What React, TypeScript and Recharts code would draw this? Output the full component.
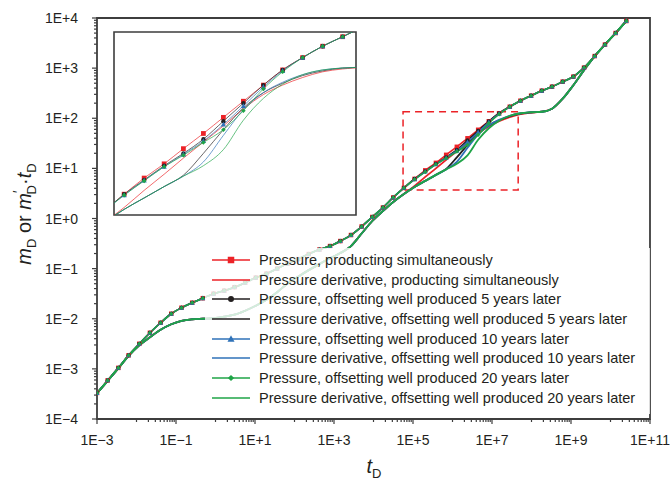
import React from 'react'
import { LineChart, Line, XAxis, YAxis, Legend, ReferenceArea } from 'recharts'

const FONT = '"Liberation Sans", Arial, sans-serif'
const RED = '#ec2227'
const BLACK = '#231f20'
const BLUE = '#2f72b8'
const GREEN = '#1fa447'
const FRAME = '#3d3d3d'

// log10 of t_D at every computed step (one marker per step)
const tLog = [
  -3.0, -2.73, -2.46, -2.2, -1.93, -1.66, -1.39, -1.12, -0.86, -0.59, -0.32, -0.05, 0.22, 0.48, 0.75, 1.02, 1.29,
  1.56, 1.82, 2.09, 2.36, 2.63, 2.9, 3.16, 3.43, 3.7, 3.97, 4.24, 4.5, 4.77, 5.04, 5.31, 5.58, 5.84, 6.11, 6.38,
  6.65, 6.92, 7.18, 7.45, 7.72, 7.99, 8.26, 8.52, 8.79, 9.06, 9.33, 9.6, 9.86, 10.13, 10.4,
]

// log10 of m_D (pressure)
const pSimLog = [
  -3.48, -3.23, -2.98, -2.73, -2.5, -2.28, -2.08, -1.9, -1.78, -1.68, -1.59, -1.5, -1.44, -1.37, -1.28, -1.18, -1.1,
  -1.0, -0.9, -0.81, -0.71, -0.62, -0.55, -0.45, -0.33, -0.16, 0.03, 0.22, 0.42, 0.61, 0.79, 0.96, 1.11, 1.27, 1.43,
  1.6, 1.77, 1.94, 2.1, 2.23, 2.35, 2.45, 2.55, 2.63, 2.73, 2.83, 3.01, 3.24, 3.47, 3.7, 3.94,
]
const p5Log = [
  -3.48, -3.23, -2.98, -2.73, -2.5, -2.28, -2.08, -1.9, -1.78, -1.68, -1.59, -1.5, -1.44, -1.37, -1.28, -1.18, -1.1,
  -1.0, -0.9, -0.81, -0.71, -0.62, -0.55, -0.45, -0.33, -0.16, 0.03, 0.22, 0.42, 0.61, 0.79, 0.94, 1.09, 1.22, 1.37,
  1.56, 1.75, 1.94, 2.1, 2.23, 2.35, 2.45, 2.55, 2.63, 2.73, 2.83, 3.01, 3.24, 3.47, 3.7, 3.94,
]
const p10Log = [
  -3.48, -3.23, -2.98, -2.73, -2.5, -2.28, -2.08, -1.9, -1.78, -1.68, -1.59, -1.5, -1.44, -1.37, -1.28, -1.18, -1.1,
  -1.0, -0.9, -0.81, -0.71, -0.62, -0.55, -0.45, -0.33, -0.16, 0.03, 0.22, 0.42, 0.61, 0.78, 0.935, 1.08, 1.21, 1.35,
  1.525, 1.72, 1.92, 2.09, 2.23, 2.35, 2.45, 2.55, 2.63, 2.73, 2.83, 3.01, 3.24, 3.47, 3.7, 3.94,
]
const p20Log = [
  -3.48, -3.23, -2.98, -2.73, -2.5, -2.28, -2.08, -1.9, -1.78, -1.68, -1.59, -1.5, -1.44, -1.37, -1.28, -1.18, -1.1,
  -1.0, -0.9, -0.81, -0.71, -0.62, -0.55, -0.45, -0.33, -0.16, 0.03, 0.22, 0.42, 0.61, 0.78, 0.93, 1.08, 1.2, 1.335,
  1.47, 1.67, 1.9, 2.08, 2.23, 2.35, 2.45, 2.55, 2.63, 2.73, 2.83, 3.01, 3.24, 3.47, 3.7, 3.94,
]

// log10 of m'_D·t_D (pressure derivative)
const dSimLog = [
  -3.49, -3.24, -2.99, -2.74, -2.53, -2.37, -2.22, -2.11, -2.04, -2.01, -2.0, -1.99, -1.96, -1.92, -1.84, -1.74, -1.62,
  -1.47, -1.3, -1.16, -1.03, -0.91, -0.79, -0.69, -0.55, -0.3, -0.05, 0.15, 0.33, 0.49, 0.65, 0.83, 1.0, 1.17, 1.34,
  1.51, 1.69, 1.84, 1.94, 2.02, 2.08, 2.11, 2.13, 2.19, 2.39, 2.66, 2.96, 3.24, 3.47, 3.7, 3.94,
]
const d5Log = [
  -3.49, -3.24, -2.99, -2.74, -2.53, -2.37, -2.22, -2.11, -2.04, -2.01, -2.0, -1.99, -1.96, -1.92, -1.84, -1.74, -1.62,
  -1.47, -1.3, -1.16, -1.03, -0.91, -0.79, -0.69, -0.55, -0.3, -0.05, 0.15, 0.33, 0.49, 0.63, 0.75, 0.87, 0.99, 1.22,
  1.47, 1.7, 1.86, 1.96, 2.04, 2.09, 2.12, 2.13, 2.19, 2.39, 2.66, 2.96, 3.24, 3.47, 3.7, 3.94,
]
const d10Log = [
  -3.49, -3.24, -2.99, -2.74, -2.53, -2.37, -2.22, -2.11, -2.04, -2.01, -2.0, -1.99, -1.96, -1.92, -1.84, -1.74, -1.62,
  -1.47, -1.3, -1.16, -1.03, -0.91, -0.79, -0.69, -0.55, -0.3, -0.05, 0.15, 0.33, 0.49, 0.63, 0.75, 0.87, 0.98, 1.13,
  1.41, 1.68, 1.86, 1.97, 2.05, 2.1, 2.12, 2.13, 2.19, 2.39, 2.66, 2.96, 3.24, 3.47, 3.7, 3.94,
]
const d20Log = [
  -3.49, -3.24, -2.99, -2.74, -2.53, -2.37, -2.22, -2.11, -2.04, -2.01, -2.0, -1.99, -1.96, -1.92, -1.84, -1.74, -1.62,
  -1.47, -1.3, -1.16, -1.03, -0.91, -0.79, -0.69, -0.55, -0.3, -0.05, 0.15, 0.33, 0.49, 0.63, 0.75, 0.87, 0.98, 1.09,
  1.26, 1.57, 1.8, 1.95, 2.05, 2.1, 2.12, 2.13, 2.19, 2.39, 2.66, 2.96, 3.24, 3.47, 3.7, 3.94,
]

const xTicks = [
  1e-3, 1e-2, 2e-2, 3e-2, 4e-2, 5e-2, 6e-2, 7e-2, 8e-2, 9e-2, 1e-1, 1, 2, 3, 4, 5, 6, 7, 8, 9, 1e1, 1e2, 2e2, 3e2, 4e2,
  5e2, 6e2, 7e2, 8e2, 9e2, 1e3, 1e4, 2e4, 3e4, 4e4, 5e4, 6e4, 7e4, 8e4, 9e4, 1e5, 1e6, 2e6, 3e6, 4e6, 5e6, 6e6, 7e6,
  8e6, 9e6, 1e7, 1e8, 2e8, 3e8, 4e8, 5e8, 6e8, 7e8, 8e8, 9e8, 1e9, 1e10, 2e10, 3e10, 4e10, 5e10, 6e10, 7e10, 8e10,
  9e10, 1e11,
]
const yTicks = [
  1e-4, 2e-4, 3e-4, 4e-4, 5e-4, 6e-4, 7e-4, 8e-4, 9e-4, 1e-3, 2e-3, 3e-3, 4e-3, 5e-3, 6e-3, 7e-3, 8e-3, 9e-3, 1e-2,
  2e-2, 3e-2, 4e-2, 5e-2, 6e-2, 7e-2, 8e-2, 9e-2, 1e-1, 0.2, 0.3, 0.4, 0.5, 0.6, 0.7, 0.8, 0.9, 1, 2, 3, 4, 5, 6, 7, 8,
  9, 10, 20, 30, 40, 50, 60, 70, 80, 90, 100, 200, 300, 400, 500, 600, 700, 800, 900, 1e3, 2e3, 3e3, 4e3, 5e3, 6e3,
  7e3, 8e3, 9e3, 1e4,
]

// dashed box that the inset magnifies, and the inset's own range
const boxX = [5.6e4, 4.6e7]
const boxY = [3.7, 135]
const insetX = [8.0e4, 1.48e8]
const insetY = [3.72, 316]

type Shape = 'square' | 'circle' | 'triangle' | 'diamond'

const series: { key: string; name: string; color: string; shape?: Shape; values: number[] }[] = [
  { key: 'pSim', name: 'Pressure, producting simultaneously', color: RED, shape: 'square', values: pSimLog },
  { key: 'dSim', name: 'Pressure derivative, producting simultaneously', color: RED, values: dSimLog },
  { key: 'p5', name: 'Pressure, offsetting well produced 5 years later', color: BLACK, shape: 'circle', values: p5Log },
  { key: 'd5', name: 'Pressure derivative, offsetting well produced 5 years later', color: BLACK, values: d5Log },
  { key: 'p10', name: 'Pressure, offsetting well produced 10 years later', color: BLUE, shape: 'triangle', values: p10Log },
  { key: 'd10', name: 'Pressure derivative, offsetting well produced 10 years later', color: BLUE, values: d10Log },
  { key: 'p20', name: 'Pressure, offsetting well produced 20 years later', color: GREEN, shape: 'diamond', values: p20Log },
  { key: 'd20', name: 'Pressure derivative, offsetting well produced 20 years later', color: GREEN, values: d20Log },
]

const rows = tLog.map((e, i) => {
  const row: Record<string, number> = { t: Math.pow(10, e) }
  series.forEach((s) => {
    row[s.key] = Math.pow(10, s.values[i])
  })
  return row
})

const markerSize: Record<Shape, number> = { square: 5, circle: 4.6, triangle: 5.4, diamond: 4.8 }

function Marker({ cx, cy, shape, color, size }: any) {
  if (cx == null || cy == null) return null
  const h = size / 2
  if (shape === 'square') return <rect x={cx - h} y={cy - h} width={size} height={size} fill={color} />
  if (shape === 'circle') return <circle cx={cx} cy={cy} r={h} fill={color} />
  if (shape === 'triangle')
    return <polygon points={`${cx},${cy - h * 1.1} ${cx + h},${cy + h * 0.8} ${cx - h},${cy + h * 0.8}`} fill={color} />
  return <polygon points={`${cx},${cy - h} ${cx + h},${cy} ${cx},${cy + h} ${cx - h},${cy}`} fill={color} />
}

const expLabel = (v: number) => {
  const e = Math.round(Math.log10(v))
  return `1E${e < 0 ? '\u2212' : '+'}${Math.abs(e)}`
}

function XTick({ x, y, payload }: any) {
  const e = Math.log10(payload.value)
  const whole = Math.abs(e - Math.round(e)) < 1e-6
  const major = whole && Math.abs(Math.round(e)) % 2 === 1
  return (
    <g>
      <line x1={x} y1={y} x2={x} y2={y + (major ? 5 : 3)} stroke={FRAME} strokeWidth={1.2} />
      {major && (
        <text x={x} y={y + 26} textAnchor="middle" fontSize={14} fill={BLACK} fontFamily={FONT}>
          {expLabel(payload.value)}
        </text>
      )}
    </g>
  )
}

function YTick({ x, y, payload }: any) {
  const e = Math.log10(payload.value)
  const major = Math.abs(e - Math.round(e)) < 1e-6
  return (
    <g>
      <line x1={x - (major ? 5 : 3)} y1={y} x2={x} y2={y} stroke={FRAME} strokeWidth={1.2} />
      {major && (
        <text x={x - 19} y={y + 5} textAnchor="end" fontSize={14} fill={BLACK} fontFamily={FONT}>
          {expLabel(payload.value)}
        </text>
      )}
    </g>
  )
}

const renderLines = (inset: boolean) =>
  series.map((s) => (
    <Line
      key={s.key}
      dataKey={s.key}
      type="monotone"
      stroke={s.color}
      strokeWidth={inset ? 0.8 : s.shape ? 1.6 : 1.8}
      strokeOpacity={inset ? 0.85 : 1}
      dot={
        s.shape
          ? (p: any) => (
              <Marker
                key={`${s.key}-${p.index}`}
                cx={p.cx}
                cy={p.cy}
                shape={s.shape}
                color={s.color}
                size={markerSize[s.shape as Shape] * (inset ? 0.95 : 0.9)}
              />
            )
          : false
      }
      activeDot={false}
      isAnimationActive={false}
    />
  ))

const renderLegend = () => (
  <div style={{ paddingTop: 2, fontFamily: FONT, fontSize: 14.5, color: BLACK }}>
    {series.map((s) => (
      <div key={s.key} style={{ height: 19.7, display: 'flex', alignItems: 'center' }}>
        <svg width={40} height={12} style={{ marginLeft: 6, marginRight: 8 }}>
          <line x1={1} y1={6} x2={39} y2={6} stroke={s.color} strokeWidth={1.6} />
          {s.shape && <Marker cx={20} cy={6} shape={s.shape} color={s.color} size={markerSize[s.shape] * 1.3} />}
        </svg>
        <span style={{ whiteSpace: 'nowrap' }}>{s.name}</span>
      </div>
    ))}
  </div>
)

export default function App() {
  return (
    <div style={{ position: 'absolute', left: 0, top: 0, width: 670, height: 487, background: '#fff', fontFamily: FONT }}>
      <LineChart width={670} height={487} data={rows} margin={{ top: 18, right: 20, bottom: 38, left: 37 }}>
        <XAxis
          dataKey="t"
          type="number"
          scale="log"
          domain={[1e-3, 1e11]}
          ticks={xTicks}
          interval={0}
          tick={<XTick />}
          tickLine={false}
          axisLine={false}
          tickSize={0}
          tickMargin={0}
          height={30}
          allowDataOverflow
        />
        <YAxis
          type="number"
          scale="log"
          domain={[1e-4, 1e4]}
          ticks={yTicks}
          interval={0}
          tick={<YTick />}
          tickLine={false}
          axisLine={false}
          tickSize={0}
          tickMargin={0}
          width={60}
          allowDataOverflow
        />
        <ReferenceArea x1={1e-3} x2={1e11} y1={1e-4} y2={1e4} fill="none" stroke={FRAME} strokeWidth={1.8} />
        <ReferenceArea
          x1={boxX[0]}
          x2={boxX[1]}
          y1={boxY[0]}
          y2={boxY[1]}
          fill="none"
          stroke={RED}
          strokeWidth={1.5}
          strokeDasharray="7 5"
        />
        {renderLines(false)}
        <Legend
          layout="vertical"
          align="center"
          verticalAlign="middle"
          content={renderLegend}
          wrapperStyle={{ left: 205, top: 248, width: 445, height: 166, background: 'rgba(255,255,255,0.8)' }}
        />
      </LineChart>

      <div style={{ position: 'absolute', left: 112, top: 30 }}>
        <LineChart width={246} height={187} data={rows} margin={{ top: 2, right: 2, bottom: 2, left: 2 }}>
          <XAxis dataKey="t" type="number" scale="log" domain={insetX} hide allowDataOverflow />
          <YAxis type="number" scale="log" domain={insetY} hide allowDataOverflow />
          <ReferenceArea x1={insetX[0]} x2={insetX[1]} y1={insetY[0]} y2={insetY[1]} fill="#fff" fillOpacity={1} stroke={FRAME} strokeWidth={1.6} />
          {renderLines(true)}
        </LineChart>
      </div>

      <svg width={670} height={487} style={{ position: 'absolute', left: 0, top: 0, pointerEvents: 'none' }}>
        <text transform="translate(31,214) rotate(-90)" textAnchor="middle" fontSize={20} fill={BLACK} fontFamily={FONT}>
          <tspan fontStyle="italic">m</tspan>
          <tspan fontSize={13} dy={5}>D</tspan>
          <tspan dy={-5}>{'\u00a0or\u00a0'}</tspan>
          <tspan fontStyle="italic">m</tspan>
          <tspan fontSize={14} dy={-8}>′</tspan>
          <tspan fontSize={13} dx={-4} dy={13}>D</tspan>
          <tspan dy={-5}>·</tspan>
          <tspan fontStyle="italic">t</tspan>
          <tspan fontSize={13} dy={5}>D</tspan>
        </text>
        <text x={374} y={473} textAnchor="middle" fontSize={20} fill={BLACK} fontFamily={FONT}>
          <tspan fontStyle="italic">t</tspan>
          <tspan fontSize={13} dy={5}>D</tspan>
        </text>
      </svg>
    </div>
  )
}
